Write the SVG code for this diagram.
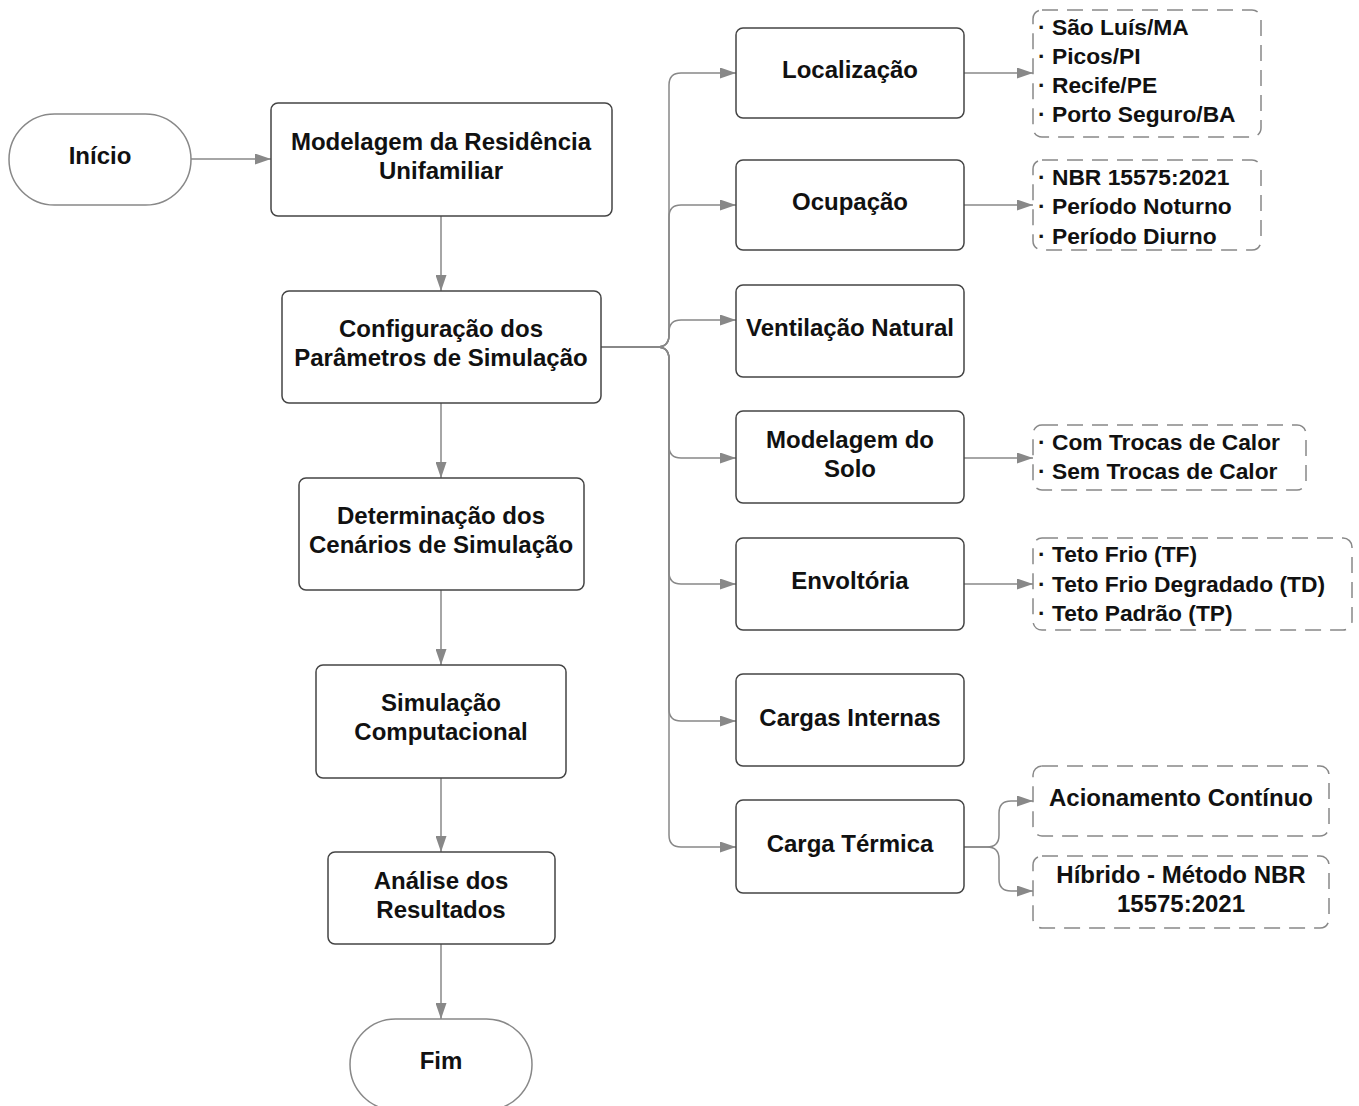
<svg xmlns="http://www.w3.org/2000/svg" width="1359" height="1106" viewBox="0 0 1359 1106">
<style>
.box{fill:#fff;stroke:#444;stroke-width:1.5}
.term{fill:#fff;stroke:#888;stroke-width:1.5}
.dash{fill:#fff;stroke:#888;stroke-width:1.5;stroke-dasharray:16 9}
.t{font-family:"Liberation Sans",Arial,sans-serif;font-weight:bold;font-size:24px;fill:#111;text-anchor:middle}
.l{font-family:"Liberation Sans",Arial,sans-serif;font-weight:bold;font-size:22.8px;fill:#111}
.c{fill:none;stroke:#888;stroke-width:1.5}
</style>
<defs>
<marker id="ah" markerUnits="userSpaceOnUse" viewBox="0 0 16 11" refX="16" refY="5.5" markerWidth="16" markerHeight="11" orient="auto">
<path d="M0,0 L16,5.5 L0,11 z" fill="#888"/>
</marker>
</defs>
<g id="connectors" class="c" marker-end="url(#ah)">
<path class="c" d="M191,159 H271"/>
<path class="c" d="M441,216 V291"/>
<path class="c" d="M441,403 V478"/>
<path class="c" d="M441,590 V665"/>
<path class="c" d="M441,778 V852"/>
<path class="c" d="M441,944 V1019"/>
<path class="c" d="M601,347 H657 Q669,347 669,335 V85 Q669,73 681,73 H736"/>
<path class="c" d="M601,347 H657 Q669,347 669,335 V217 Q669,205 681,205 H736"/>
<path class="c" d="M601,347 H657 Q669,347 669,335 V332 Q669,320 681,320 H736"/>
<path class="c" d="M601,347 H657 Q669,347 669,359 V446 Q669,458 681,458 H736"/>
<path class="c" d="M601,347 H657 Q669,347 669,359 V572 Q669,584 681,584 H736"/>
<path class="c" d="M601,347 H657 Q669,347 669,359 V709 Q669,721 681,721 H736"/>
<path class="c" d="M601,347 H657 Q669,347 669,359 V835 Q669,847 681,847 H736"/>
<path class="c" d="M964,73 H1033"/>
<path class="c" d="M964,205 H1033"/>
<path class="c" d="M964,458 H1033"/>
<path class="c" d="M964,584 H1033"/>
<path class="c" d="M964,847 H987 Q999,847 999,835 V813 Q999,801 1011,801 H1033"/>
<path class="c" d="M964,847 H987 Q999,847 999,859 V879 Q999,891 1011,891 H1033"/>
</g>
<g id="inicio"><rect class="term" x="9" y="114" width="182" height="91" rx="45.5"/><text class="t" x="100" y="164">Início</text></g>
<g id="modelagem"><rect class="box" x="271" y="103" width="341" height="113" rx="7"/><text class="t" x="441" y="150">Modelagem da Residência</text><text class="t" x="441" y="179">Unifamiliar</text></g>
<g id="config"><rect class="box" x="282" y="291" width="319" height="112" rx="7"/><text class="t" x="441" y="337">Configuração dos</text><text class="t" x="441" y="366">Parâmetros de Simulação</text></g>
<g id="determinacao"><rect class="box" x="299" y="478" width="285" height="112" rx="7"/><text class="t" x="441" y="524">Determinação dos</text><text class="t" x="441" y="553">Cenários de Simulação</text></g>
<g id="simulacao"><rect class="box" x="316" y="665" width="250" height="113" rx="7"/><text class="t" x="441" y="711">Simulação</text><text class="t" x="441" y="740">Computacional</text></g>
<g id="analise"><rect class="box" x="328" y="852" width="227" height="92" rx="7"/><text class="t" x="441" y="889">Análise dos</text><text class="t" x="441" y="918">Resultados</text></g>
<g id="fim"><rect class="term" x="350" y="1019" width="182" height="91" rx="45.5"/><text class="t" x="441" y="1069">Fim</text></g>
<g id="localizacao"><rect class="box" x="736" y="28" width="228" height="90" rx="7"/><text class="t" x="850" y="78">Localização</text></g>
<g id="ocupacao"><rect class="box" x="736" y="160" width="228" height="90" rx="7"/><text class="t" x="850" y="210">Ocupação</text></g>
<g id="ventilacao"><rect class="box" x="736" y="285" width="228" height="92" rx="7"/><text class="t" x="850" y="336">Ventilação Natural</text></g>
<g id="solo"><rect class="box" x="736" y="411" width="228" height="92" rx="7"/><text class="t" x="850" y="448">Modelagem do</text><text class="t" x="850" y="477">Solo</text></g>
<g id="envoltoria"><rect class="box" x="736" y="538" width="228" height="92" rx="7"/><text class="t" x="850" y="589">Envoltória</text></g>
<g id="cargas-internas"><rect class="box" x="736" y="674" width="228" height="92" rx="7"/><text class="t" x="850" y="726">Cargas Internas</text></g>
<g id="carga-termica"><rect class="box" x="736" y="800" width="228" height="93" rx="7"/><text class="t" x="850" y="852">Carga Térmica</text></g>
<g id="lista-localizacao"><rect class="dash" x="1033" y="10" width="228" height="127" rx="9"/><text class="l" x="1038" y="35">· São Luís/MA</text><text class="l" x="1038" y="64">· Picos/PI</text><text class="l" x="1038" y="93">· Recife/PE</text><text class="l" x="1038" y="122">· Porto Seguro/BA</text></g>
<g id="lista-ocupacao"><rect class="dash" x="1033" y="160" width="228" height="90" rx="9"/><text class="l" x="1038" y="185">· NBR 15575:2021</text><text class="l" x="1038" y="214">· Período Noturno</text><text class="l" x="1038" y="244">· Período Diurno</text></g>
<g id="lista-solo"><rect class="dash" x="1033" y="425" width="273" height="65" rx="9"/><text class="l" x="1038" y="450">· Com Trocas de Calor</text><text class="l" x="1038" y="479">· Sem Trocas de Calor</text></g>
<g id="lista-envoltoria"><rect class="dash" x="1033" y="538" width="319" height="92" rx="9"/><text class="l" x="1038" y="562">· Teto Frio (TF)</text><text class="l" x="1038" y="592">· Teto Frio Degradado (TD)</text><text class="l" x="1038" y="621">· Teto Padrão (TP)</text></g>
<g id="acionamento"><rect class="dash" x="1033" y="766" width="296" height="70" rx="9"/><text class="t" x="1181" y="806">Acionamento Contínuo</text></g>
<g id="hibrido"><rect class="dash" x="1033" y="856" width="296" height="72" rx="9"/><text class="t" x="1181" y="883">Híbrido - Método NBR</text><text class="t" x="1181" y="912">15575:2021</text></g>
</svg>
